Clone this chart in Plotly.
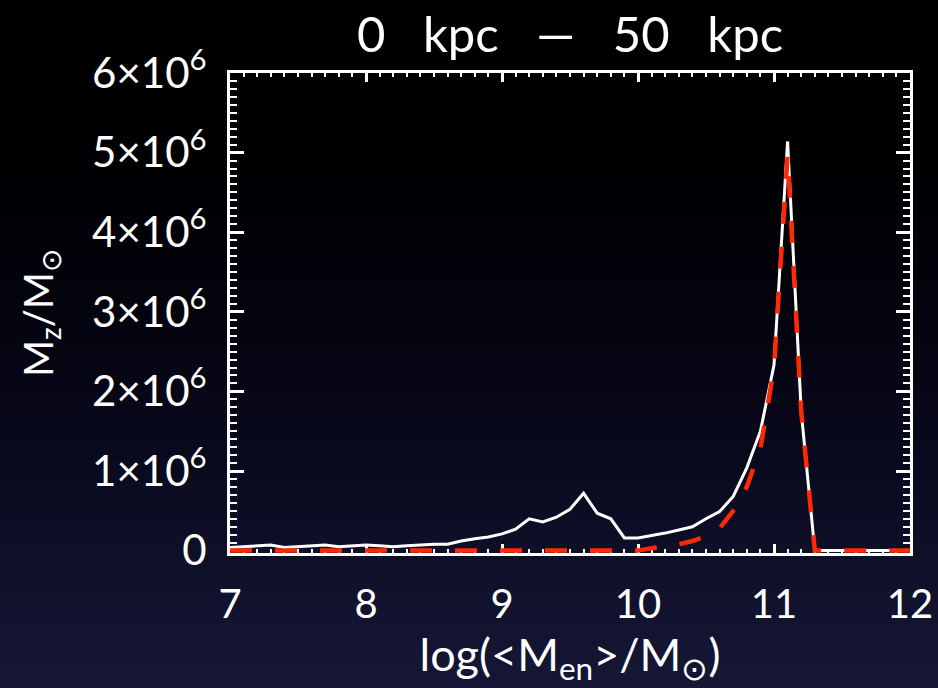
import base64, struct, zlib
import plotly.graph_objects as go

# ---------------- data ----------------
log_mass = [7.0, 7.1, 7.2, 7.3, 7.4, 7.5, 7.6, 7.7, 7.8, 7.9,
            8.0, 8.1, 8.2, 8.3, 8.4, 8.5, 8.6, 8.7, 8.8, 8.9,
            9.0, 9.1, 9.2, 9.3, 9.4, 9.5, 9.6, 9.7, 9.8, 9.9,
            10.0, 10.1, 10.2, 10.3, 10.4, 10.5, 10.6, 10.7, 10.8, 10.9,
            11.0, 11.1, 11.2, 11.3, 11.4, 11.5, 11.6, 11.7, 11.8, 11.9, 12.0]

# metal mass, units of 1e6 Msun
total_mz = [0.04, 0.05, 0.06, 0.07, 0.04, 0.05, 0.06, 0.07, 0.05, 0.06,
            0.07, 0.06, 0.05, 0.06, 0.07, 0.08, 0.08, 0.12, 0.15, 0.17,
            0.21, 0.27, 0.40, 0.36, 0.42, 0.52, 0.72, 0.47, 0.40, 0.16,
            0.16, 0.19, 0.22, 0.26, 0.30, 0.40, 0.49, 0.68, 1.04, 1.50,
            2.33, 5.14, 1.75, 0.0, 0.0, 0.0, 0.0, 0.0, 0.0, 0.0, 0.0]

main_mz = [0.0, 0.0, 0.0, 0.0, 0.0, 0.0, 0.0, 0.0, 0.0, 0.0,
           0.0, 0.0, 0.0, 0.0, 0.0, 0.0, 0.0, 0.0, 0.0, 0.0,
           0.0, 0.0, 0.0, 0.0, 0.0, 0.0, 0.0, 0.0, 0.0, 0.0,
           0.0, 0.03, 0.05, 0.08, 0.12, 0.18, 0.28, 0.50, 0.80, 1.28,
           2.30, 4.97, 1.75, 0.0, 0.0, 0.0, 0.0, 0.0, 0.0, 0.0, 0.0]

x_ticks = [7, 8, 9, 10, 11, 12]
y_ticks = [0, 1e6, 2e6, 3e6, 4e6, 5e6, 6e6]
y_ticktext = ["0", "1×10<sup>6</sup>", "2×10<sup>6</sup>", "3×10<sup>6</sup>",
              "4×10<sup>6</sup>", "5×10<sup>6</sup>", "6×10<sup>6</sup>"]

SCALE = 1e6
W, H = 938, 688
ML, MR, MT, MB = 230, 28, 73, 135
FONT = "Lato"

# ------------- background gradient (PNG data URI) -------------
stops = [(0, (0, 0, 0)), (170, (0, 0, 2)), (300, (3, 3, 13)), (450, (9, 9, 29)),
         (600, (17, 18, 45)), (688, (22, 23, 54))]


def color_at(y):
    for (y0, c0), (y1, c1) in zip(stops[:-1], stops[1:]):
        if y0 <= y <= y1:
            t = (y - y0) / (y1 - y0)
            return tuple(int(round(a + (b - a) * t)) for a, b in zip(c0, c1))
    return stops[-1][1]


def make_png(height):
    raw = b"".join(b"\x00" + bytes(color_at(y)) for y in range(height))

    def chunk(tag, data):
        c = tag + data
        return struct.pack(">I", len(data)) + c + struct.pack(">I", zlib.crc32(c) & 0xffffffff)

    png = b"\x89PNG\r\n\x1a\n"
    png += chunk(b"IHDR", struct.pack(">IIBBBBB", 1, height, 8, 2, 0, 0, 0))
    png += chunk(b"IDAT", zlib.compress(raw, 9))
    png += chunk(b"IEND", b"")
    return "data:image/png;base64," + base64.b64encode(png).decode()


pw, ph = W - ML - MR, H - MT - MB

fig = go.Figure()
fig.add_trace(go.Scatter(
    x=log_mass, y=[v * SCALE for v in total_mz], mode="lines",
    line=dict(color="white", width=3), cliponaxis=False, showlegend=False))
fig.add_trace(go.Scatter(
    x=log_mass, y=[v * SCALE for v in main_mz], mode="lines",
    line=dict(color="#ff2a05", width=4.5, dash="22px,23px"), cliponaxis=False, showlegend=False))

axis_common = dict(showline=True, linecolor="white", linewidth=3, mirror="allticks",
                   ticks="inside", tickcolor="white", tickwidth=2.5,
                   showgrid=False, zeroline=False, layer="below traces")

sp = "\u00a0" * 3
fig.update_layout(
    width=W, height=H,
    margin=dict(l=ML, r=MR, t=MT, b=MB, autoexpand=False),
    paper_bgcolor="black", plot_bgcolor="rgba(0,0,0,0)",
    title=dict(text=f"0{sp}kpc{sp}—{sp}50{sp}kpc",
               x=0.5, xref="paper", y=1 - 35 / H, yref="container",
               xanchor="center", yanchor="middle",
               font=dict(family=FONT, size=49, color="white")),
    xaxis=dict(range=[7, 12], tickvals=x_ticks, ticklen=9,
               ticklabelstandoff=14,
               tickfont=dict(family=FONT, size=40, color="white"),
               minor=dict(dtick=0.1, ticklen=4, ticks="inside", tickcolor="white", tickwidth=2),
               title=dict(text="log(<M<sub>en</sub>>/M<sub>⊙</sub>)", standoff=0,
                          font=dict(family=FONT, size=45, color="white")),
               **axis_common),
    yaxis=dict(range=[-0.03e6, 6e6], tickvals=y_ticks, ticktext=y_ticktext, ticklen=14,
               ticklabelstandoff=12,
               tickfont=dict(family=FONT, size=42, color="white"),
               minor=dict(dtick=1e5, ticklen=7, ticks="inside", tickcolor="white", tickwidth=2),
               title=dict(text="M<sub>z</sub>/M<sub>⊙</sub>", standoff=27,
                          font=dict(family=FONT, size=40, color="white")),
               **axis_common),
    images=[dict(source=make_png(H), xref="paper", yref="paper",
                 x=-ML / pw, y=1 + MT / ph, sizex=W / pw, sizey=H / ph,
                 xanchor="left", yanchor="top", sizing="stretch", layer="below")],
)

fig.write_html(
    "out.html", config={"displayModeBar": False},
    post_script="document.body.style.margin='0';document.body.style.background='black';")
